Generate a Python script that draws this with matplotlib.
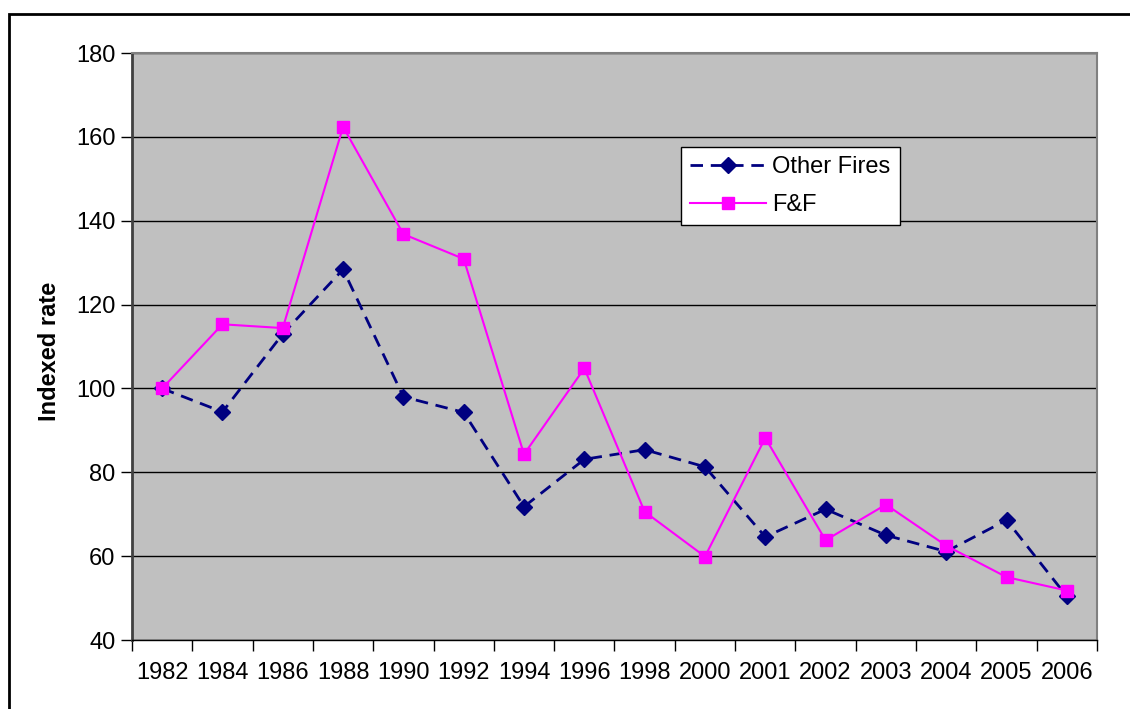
import numpy as np
import matplotlib.pyplot as plt
from matplotlib.patches import Rectangle

plt.rcParams['font.family'] = ['Liberation Sans', 'DejaVu Sans']

# =========================================================
# data
# =========================================================
years = ['1982', '1984', '1986', '1988', '1990', '1992', '1994', '1996',
         '1998', '2000', '2001', '2002', '2003', '2004', '2005', '2006']
other_fires = [100.0, 94.4, 113.0, 128.4, 98.0, 94.3, 71.8, 83.1,
               85.4, 81.3, 64.6, 71.2, 65.0, 61.1, 68.6, 50.4]
ff = [100.0, 115.3, 114.4, 162.4, 136.8, 130.9, 84.3, 104.8,
      70.6, 59.9, 88.2, 63.8, 72.3, 62.5, 55.0, 51.8]

# =========================================================
# figure
# =========================================================
fig = plt.figure(figsize=(11.3, 7.09), dpi=100)
ax = fig.add_axes([0.1168, 0.0973, 0.8540, 0.8279])
ax.set_facecolor('#c0c0c0')

x = np.arange(len(years))

ax.plot(x, other_fires, color='#000080', linestyle=(0, (4.5, 2.8)), linewidth=2,
        marker='D', markersize=8, markerfacecolor='#000080',
        markeredgecolor='#000080', label='Other Fires', zorder=3)
ax.plot(x, ff, color='#ff00ff', linestyle='-', linewidth=1.5,
        marker='s', markersize=9, markerfacecolor='#ff00ff',
        markeredgecolor='#ff00ff', label='F&F', zorder=4)

# y axis
ax.set_ylim(40, 180)
ax.set_yticks(np.arange(40, 181, 20))
ax.yaxis.grid(True, color='black', linewidth=1)
ax.set_axisbelow(True)
ax.set_ylabel('Indexed rate', fontsize=17, fontweight='bold')
ax.yaxis.set_label_coords(-0.074, 0.491)

# x axis: tick marks between categories, labels at centres
ax.set_xlim(-0.5, len(years) - 0.5)
ax.set_xticks(np.arange(-0.5, len(years), 1.0))
ax.set_xticklabels([])
ax.set_xticks(x, minor=True)
ax.set_xticklabels(years, minor=True)
ax.tick_params(axis='x', which='major', length=8, width=1, direction='out',
               color='black')
ax.tick_params(axis='x', which='minor', length=0, pad=16, labelsize=17)
ax.tick_params(axis='y', length=8, width=1, direction='out', labelsize=17,
               pad=4)

for side in ['top', 'right']:
    ax.spines[side].set_color('#808080')
    ax.spines[side].set_linewidth(1.5)
ax.spines['left'].set_color('#404040')
ax.spines['left'].set_linewidth(2)
ax.spines['bottom'].set_color('black')
ax.spines['bottom'].set_linewidth(1)

leg = ax.legend(loc='upper left', bbox_to_anchor=(0.6027, 0.7927),
                bbox_transform=fig.transFigure, borderaxespad=0,
                fontsize=17, frameon=True, fancybox=False,
                handlelength=3.2, handletextpad=0.25, borderpad=0.4,
                labelspacing=0.65)
leg.get_frame().set_edgecolor('black')
leg.get_frame().set_linewidth(1)
leg.get_frame().set_facecolor('white')
leg.get_frame().set_alpha(1)

# outer chart border
fig.patches.append(Rectangle((9 / 1130, -0.01), 1.2, 1 - 14 / 709 + 0.01,
                             transform=fig.transFigure, fill=False,
                             edgecolor='black', linewidth=2))

plt.savefig('out.png', dpi=100)
